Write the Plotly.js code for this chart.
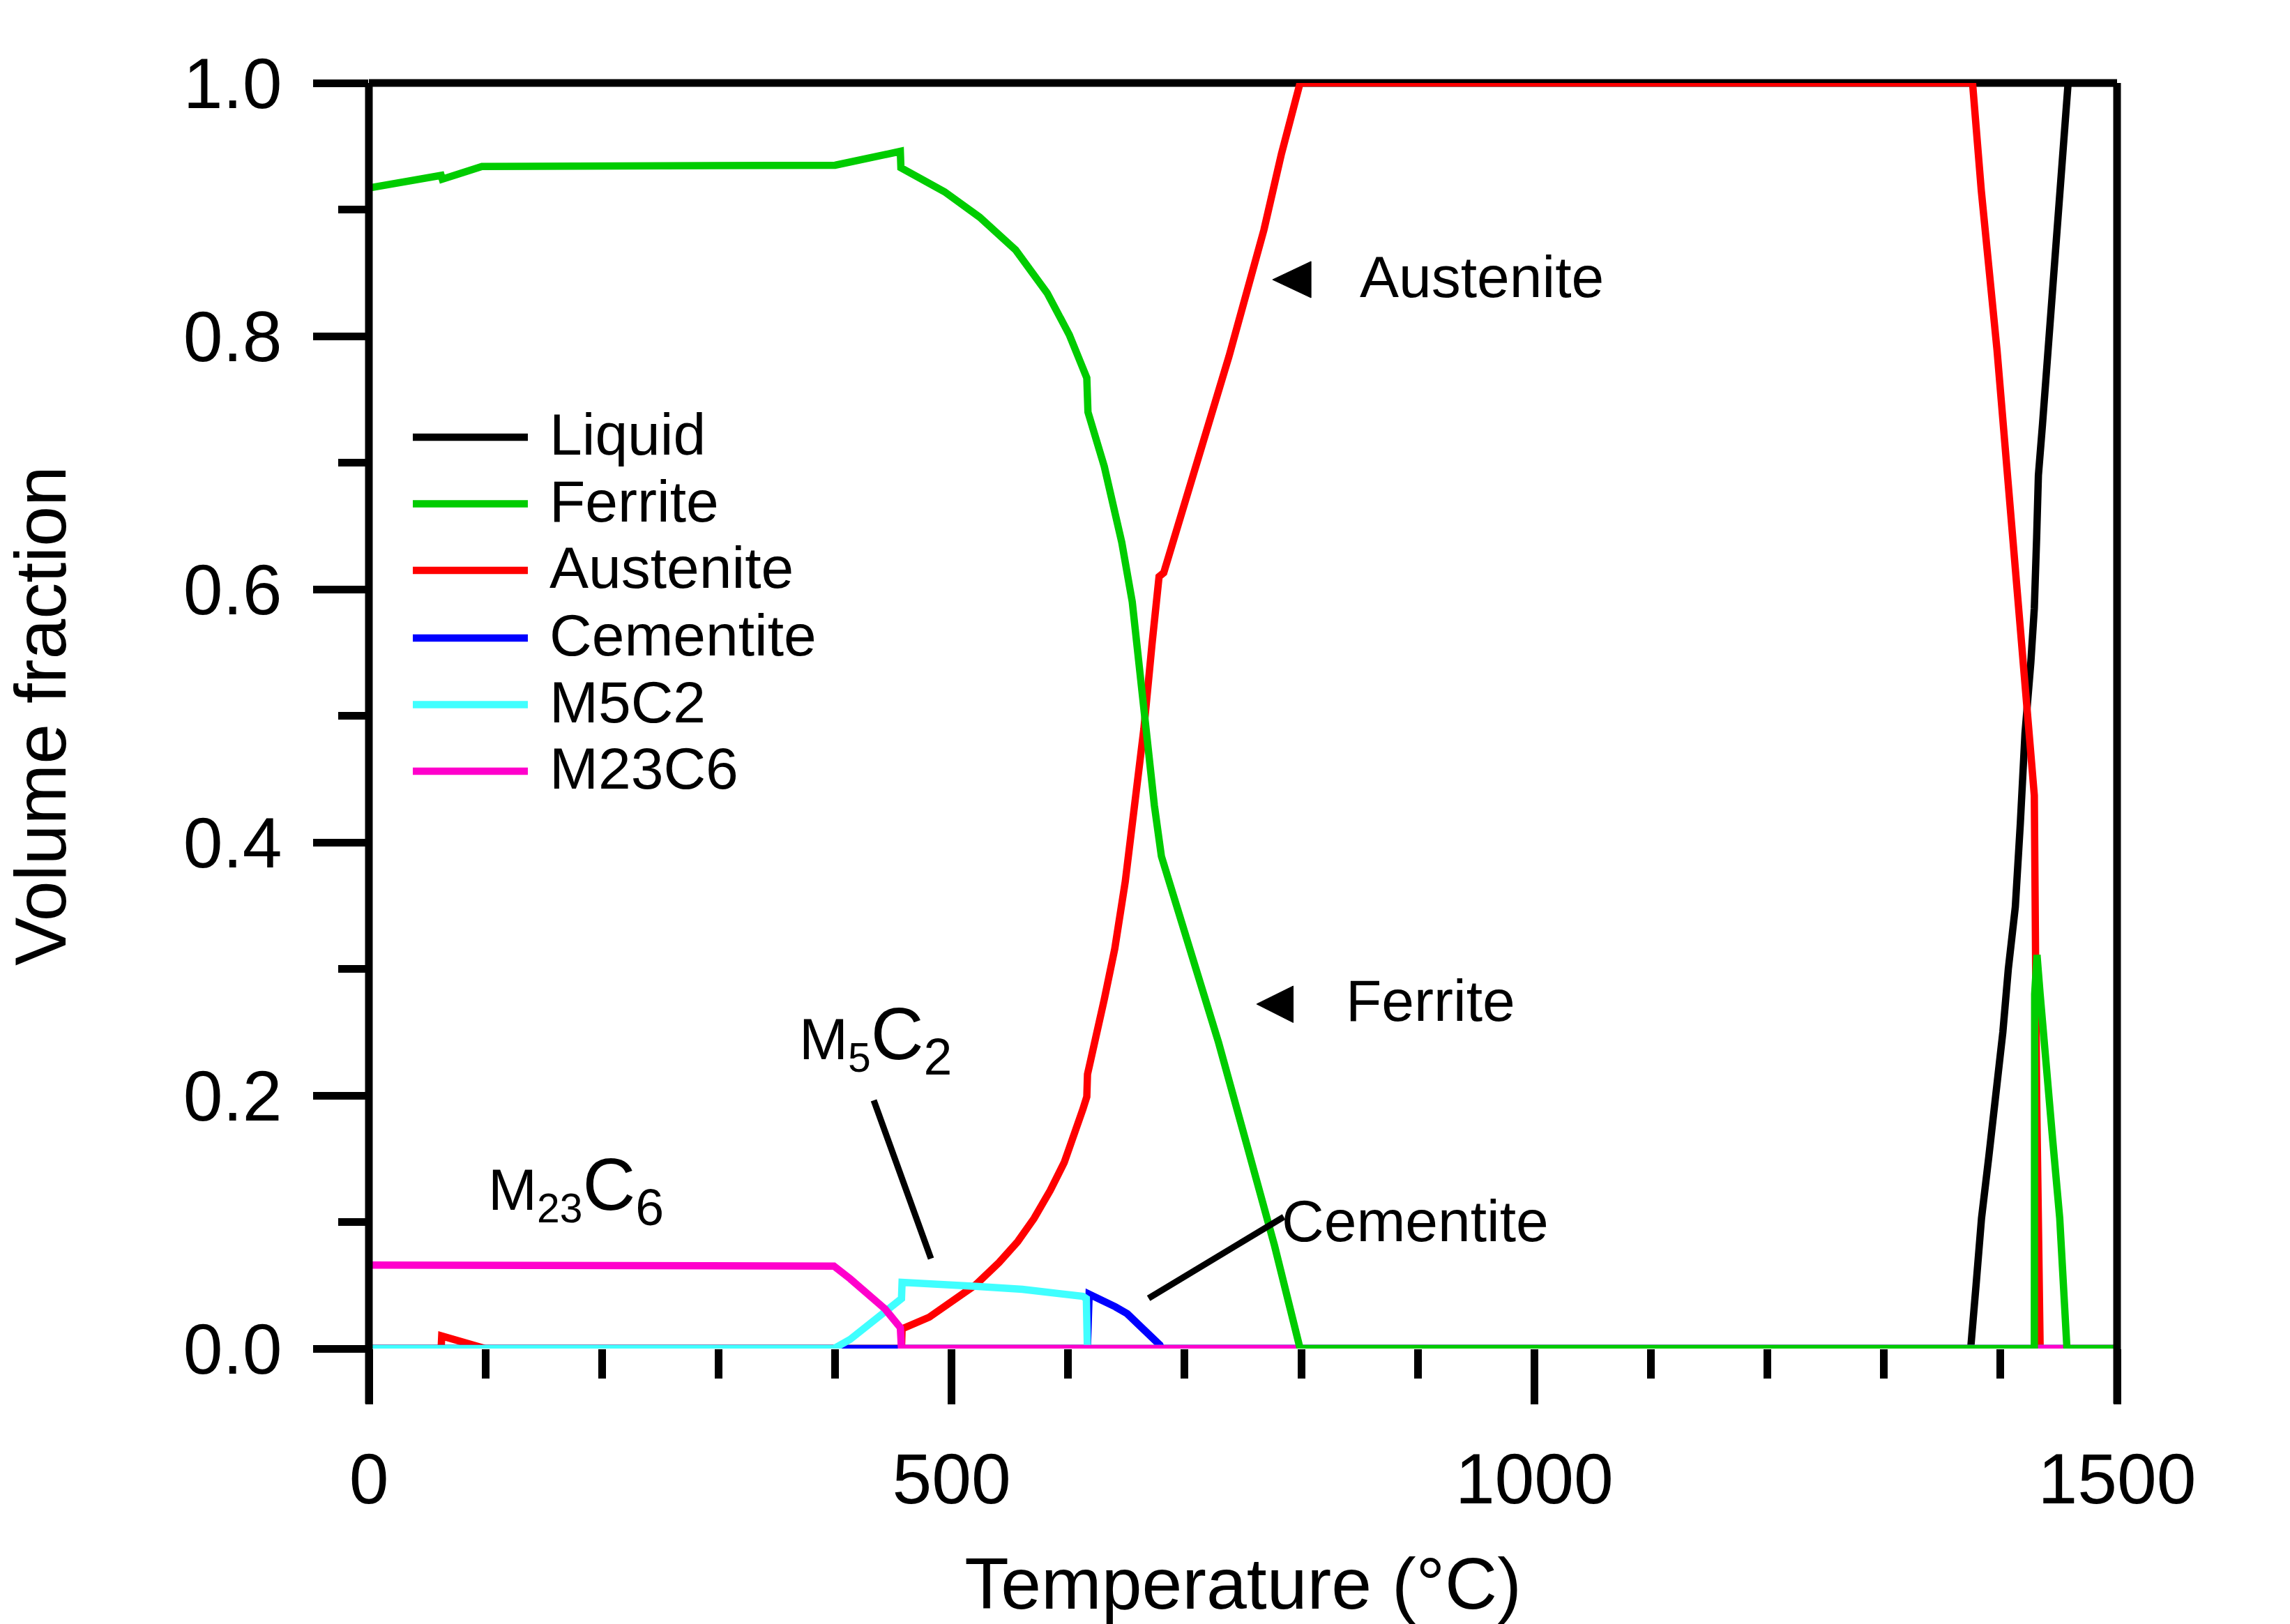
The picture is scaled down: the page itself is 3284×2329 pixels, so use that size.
<!DOCTYPE html>
<html>
<head>
<meta charset="utf-8">
<script src="https://cdn.plot.ly/plotly-3.0.1.min.js"></script>
<style>html,body{margin:0;padding:0;background:#fff;}#chart{width:3284px;height:2329px;}</style>
</head>
<body>
<div id="chart"></div>
<script>
// ---- data (temperature in °C, volume fraction) ----
const T_liquid = [0, 1374.4, 1379, 1383.7, 1390, 1396.6, 1402, 1406.7, 1412.7, 1417, 1421, 1426, 1429, 1431, 1432.5, 1436, 1441, 1446, 1450, 1454, 1458, 1500];
const f_liquid = [0, 0, 0.05, 0.103, 0.152, 0.2015, 0.25, 0.30, 0.349, 0.415, 0.486, 0.542, 0.585, 0.641, 0.69, 0.73, 0.79, 0.84, 0.89, 0.945, 1.0, 1.0];

const T_ferrite = [0, 62, 63, 97, 400, 456, 456.5, 494, 524, 555, 582, 601, 616, 617, 631, 646, 655, 665, 674, 680, 692, 707, 729, 753, 777, 799, 1429, 1429.3, 1431.3, 1434, 1436.5, 1444.8, 1450.8, 1457, 1500];
const f_ferrite = [0.917, 0.927, 0.924, 0.934, 0.935, 0.946, 0.933, 0.914, 0.894, 0.868, 0.834, 0.801, 0.767, 0.740, 0.697, 0.637, 0.590, 0.503, 0.429, 0.389, 0.3525, 0.306, 0.242, 0.162, 0.0816, 0, 0, 0.28, 0.311, 0.28, 0.25, 0.1645, 0.103, 0, 0];

const T_austenite = [0, 62, 62.5, 100, 457, 457.5, 480.8, 500.8, 520.8, 540.7, 556.7, 570.7, 584.6, 596.6, 606.6, 612.6, 616, 616.6, 631, 640, 649, 658, 665, 672, 678, 682, 692, 707, 722, 738, 753, 768, 783, 799, 1376, 1383.5, 1397, 1409, 1419, 1425, 1429, 1431, 1434, 1500];
const f_austenite = [0, 0, 0.01, 0, 0, 0.0156, 0.0248, 0.0376, 0.0505, 0.068, 0.0845, 0.1028, 0.1249, 0.147, 0.171, 0.189, 0.199, 0.2167, 0.276, 0.316, 0.369, 0.436, 0.490, 0.557, 0.610, 0.613, 0.643, 0.687, 0.734, 0.784, 0.834, 0.884, 0.944, 1.0, 1.0, 0.915, 0.789, 0.655, 0.542, 0.472, 0.437, 0.2, 0, 0];

const T_cementite = [0, 616.5, 618, 632, 640.5, 650.7, 664, 674.7, 678.7, 680, 1500];
const f_cementite = [0, 0, 0.043, 0.0376, 0.033, 0.0275, 0.0165, 0.0064, 0.0028, 0, 0];

const T_m5c2 = [0, 399, 413, 429, 445, 457, 457.5, 472, 499, 520.8, 560.7, 590.6, 612.6, 615.6, 616.5, 1500];
const f_m5c2 = [0, 0, 0.0073, 0.0193, 0.0312, 0.0395, 0.0523, 0.0518, 0.0508, 0.0492, 0.0468, 0.0441, 0.0413, 0.0395, 0, 0];

const T_m23c6 = [0, 300, 300.5, 399, 413, 427, 443, 456, 457, 1500];
const f_m23c6 = [0.066, 0.0655, 0.065, 0.0652, 0.0551, 0.044, 0.0312, 0.0165, 0, 0];

const legendNames = ['Liquid', 'Ferrite', 'Austenite', 'Cementite', 'M5C2', 'M23C6'];
const colors = {Liquid:'#000000', Ferrite:'#00CC00', Austenite:'#FF0000', Cementite:'#0000FF', M5C2:'#40FFFF', M23C6:'#FF00CC'};

const xTicks = [0, 500, 1000, 1500];
const yTicks = [0, 0.2, 0.4, 0.6, 0.8, 1.0];

// ---- traces (draw order chosen to match overlaps) ----
const LW = 10.5;
function tr(name, x, y) {
  return {x: x, y: y, name: name, type: 'scatter', mode: 'lines',
          line: {color: colors[name], width: LW}, cliponaxis: false, showlegend: false, hoverinfo: 'skip'};
}
const data = [
  tr('Liquid', T_liquid, f_liquid),
  tr('Austenite', T_austenite, f_austenite),
  tr('Cementite', T_cementite, f_cementite),
  tr('M5C2', T_m5c2, f_m5c2),
  tr('M23C6', T_m23c6, f_m23c6),
  tr('Ferrite', T_ferrite, f_ferrite)
];

const FONT = 'Liberation Sans, Arial, sans-serif';
const ext = 79 / 1815;
const AW = 11;

const shapes = [
  {type:'line', xref:'paper', yref:'paper', x0:0, x1:1, y0:1, y1:1, line:{color:'black', width:AW}, layer:'below'},
  {type:'line', xref:'paper', yref:'paper', x0:0, x1:0, y0:-ext, y1:1, line:{color:'black', width:AW}},
  {type:'line', xref:'paper', yref:'paper', x0:1, x1:1, y0:-ext, y1:1, line:{color:'black', width:AW}},
  // annotation arrows (triangles) and leader lines
  {type:'path', xref:'x', yref:'y', path:'M 775.4,0.8446 L 808.4,0.8590 L 808.4,0.8303 Z', fillcolor:'black', line:{color:'black', width:1}},
  {type:'path', xref:'x', yref:'y', path:'M 761.7,0.2722 L 793.1,0.2865 L 793.1,0.2576 Z', fillcolor:'black', line:{color:'black', width:1}},
  {type:'line', xref:'x', yref:'y', x0:433.2, y0:0.1961, x1:482.3, y1:0.0711, line:{color:'black', width:9}},
  {type:'line', xref:'x', yref:'y', x0:669, y0:0.0397, x1:785, y1:0.1041, line:{color:'black', width:9}}
];

const legendRows = [0.7201, 0.6675, 0.6149, 0.5614, 0.5088, 0.4562];
const annotations = [];
legendNames.forEach(function (n, i) {
  shapes.push({type:'line', xref:'x', yref:'y', x0:37.7, x1:136.4, y0:legendRows[i], y1:legendRows[i], line:{color:colors[n], width:LW}});
  annotations.push({xref:'x', yref:'y', x:154, y:legendRows[i] + 0.002, text:n, showarrow:false, xanchor:'left', yanchor:'middle', font:{family:FONT, size:84, color:'black'}});
});

annotations.push(
  {xref:'x', yref:'y', x:849, y:0.8471, text:'Austenite', showarrow:false, xanchor:'left', yanchor:'middle', font:{family:FONT, size:84, color:'black'}},
  {xref:'x', yref:'y', x:837, y:0.2749, text:'Ferrite', showarrow:false, xanchor:'left', yanchor:'middle', font:{family:FONT, size:84, color:'black'}},
  {xref:'x', yref:'y', x:782, y:0.1006, text:'Cementite', showarrow:false, xanchor:'left', yanchor:'middle', font:{family:FONT, size:84, color:'black'}},
  {xref:'x', yref:'y', x:368, y:0.2444, text:'M<sub>5</sub><span style="font-size:105px">C<sub>2</sub></span>', showarrow:false, xanchor:'left', yanchor:'middle', font:{family:FONT, size:84, color:'black'}},
  {xref:'x', yref:'y', x:101, y:0.1253, text:'M<sub>23</sub><span style="font-size:105px">C<sub>6</sub></span>', showarrow:false, xanchor:'left', yanchor:'middle', font:{family:FONT, size:84, color:'black'}}
);

const layout = {
  width: 3284, height: 2329,
  margin: {l: 529, r: 248, t: 119, b: 395},
  paper_bgcolor: 'white', plot_bgcolor: 'white',
  font: {family: FONT, color: 'black'},
  showlegend: false,
  xaxis: {
    range: [0, 1500], tickmode: 'array', tickvals: xTicks, ticktext: xTicks.map(String),
    ticks: 'outside', ticklen: 79, tickwidth: AW, tickcolor: 'black',
    minor: {dtick: 100, tick0: 0, ticks: 'outside', ticklen: 42, tickwidth: AW, tickcolor: 'black', showgrid: false},
    showline: false, showgrid: false, zeroline: false,
    tickfont: {family: FONT, size: 102, color: 'black'}, ticklabelstandoff: 20,
    title: {text: 'Temperature (°C)', font: {family: FONT, size: 104, color: 'black'}, standoff: 78}
  },
  yaxis: {
    range: [0, 1], tickmode: 'array', tickvals: yTicks, ticktext: yTicks.map(function (v) { return v.toFixed(1); }),
    ticks: 'outside', ticklen: 79, tickwidth: AW, tickcolor: 'black',
    minor: {dtick: 0.1, tick0: 0, ticks: 'outside', ticklen: 43, tickwidth: AW, tickcolor: 'black', showgrid: false},
    showline: false, showgrid: false, zeroline: false,
    tickfont: {family: FONT, size: 102, color: 'black'}, ticklabelstandoff: 24,
    title: {text: 'Volume fraction', font: {family: FONT, size: 104, color: 'black'}, standoff: 156}
  },
  shapes: shapes,
  annotations: annotations
};

Plotly.newPlot('chart', data, layout, {staticPlot: true, displayModeBar: false});
</script>
</body>
</html>
